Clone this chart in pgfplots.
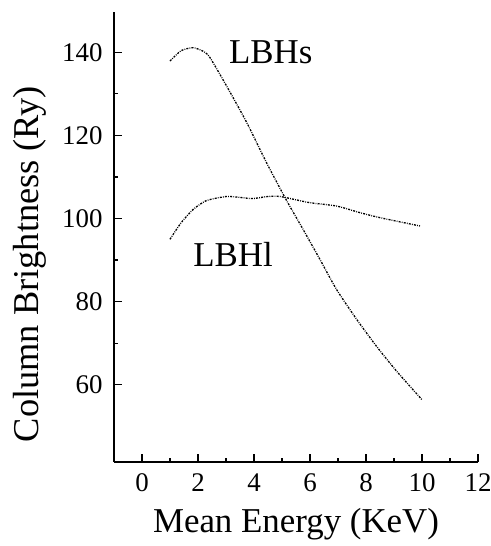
\documentclass[border=0pt]{standalone}
\usepackage{fontspec}
\setmainfont{Liberation Serif}
\usepackage{pgfplots}
\pgfplotsset{compat=1.18}
\begin{document}
\begin{tikzpicture}
\useasboundingbox (-114bp,-84bp) rectangle (377bp,462bp);
\begin{axis}[
  at={(0,0)}, anchor=south west,
  scale only axis, width=364bp, height=450bp,
  xmin=-1, xmax=12, ymin=41.4, ymax=149.7,
  axis lines=left, axis line style={-, line width=1.5bp},
  xtick={0,2,...,12}, ytick={60,80,...,140},
  minor x tick num=1, minor y tick num=1,
  tick align=inside, major tick length=8bp, minor tick length=4bp,
  tick style={line width=1.2bp, black},
  /pgf/number format/assume math mode=true,
  tick label style={font=\fontsize{27}{30}\selectfont},
  xticklabel style={yshift=-8bp},
  yticklabel style={xshift=-8bp},
  xlabel={Mean Energy (KeV)}, ylabel={Column Brightness (Ry)},
  xlabel style={font=\fontsize{35}{40}\selectfont, yshift=-10bp},
  ylabel style={font=\fontsize{36.5}{40}\selectfont, at={(axis description cs:-0.175,0.44)}, anchor=south},
  clip=false,
]
\addplot[black, line width=1.3bp, dash pattern=on 2bp off 1.2bp on 0.8bp off 1.2bp, smooth, tension=0.4] coordinates {
(1.0,137.9) (1.4,140.4) (1.83,141.1) (2.2,140.2) (2.43,138.7) (3.02,131.9) (3.74,123.1) (4.45,113.4) (5.15,104.5) (5.76,97.3) (6.36,90.1) (6.95,82.9) (7.67,75.7) (8.38,69.2) (9.1,63.2) (10.0,56.4)
};
\addplot[black, line width=1.3bp, dash pattern=on 2bp off 1.2bp on 0.8bp off 1.2bp, smooth, tension=0.4] coordinates {
(1.0,95.0) (1.4,99.0) (1.83,102.2) (2.3,104.3) (3.02,105.3) (3.6,105.0) (3.96,104.8) (4.5,105.3) (4.93,105.3) (5.5,104.5) (6.0,103.8) (6.95,103.0) (7.79,101.4) (8.5,100.2) (9.93,98.2)
};
\node[font=\fontsize{35}{40}\selectfont] at (axis cs:4.6,140) {LBHs};
\node[font=\fontsize{35}{40}\selectfont] at (axis cs:3.25,91.3) {LBHl};
\end{axis}
\end{tikzpicture}
\end{document}
